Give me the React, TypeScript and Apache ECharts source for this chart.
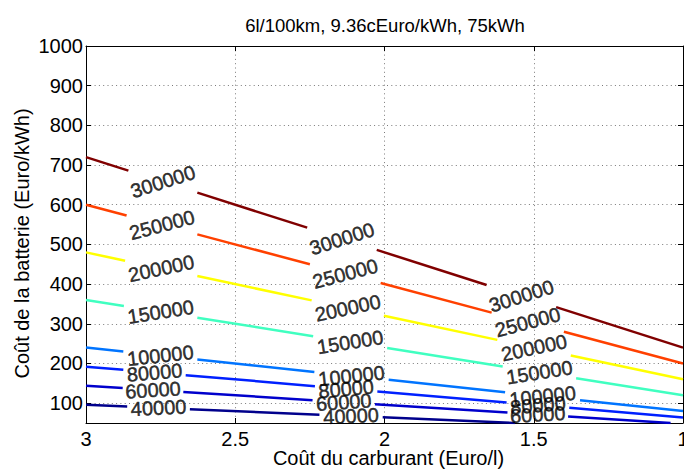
import React, { useEffect, useRef } from 'react';
import * as echarts from 'echarts';

const titleText = '6l/100km, 9.36cEuro/kWh, 75kWh';
const xName = 'Coût du carburant (Euro/l)';
const yName = 'Coût de la batterie (Euro/kWh)';
const yTicks = [100, 200, 300, 400, 500, 600, 700, 800, 900, 1000];

const levels = [40000, 60000, 80000, 100000, 150000, 200000, 250000, 300000];

// contour breakpoints (segment start/end pairs)
const x40k = [3, 2.862, 2.652, 2.218, 2.006, 1.5625];
const y40k = [96, 91.6, 84.9, 71.0, 64.2, 50];
const x60k = [3, 2.877, 2.674, 2.241, 2.032, 1.588, 1.385, 1.0417];
const y60k = [144, 138.1, 128.4, 107.6, 97.5, 76.2, 66.5, 50];
const x80k = [3, 2.875, 2.666, 2.233, 2.024, 1.591, 1.381, 1];
const y80k = [192, 184, 170.6, 142.9, 129.5, 101.8, 88.4, 64];
const x100k = [3, 2.875, 2.627, 2.235, 1.986, 1.596, 1.345, 1];
const y100k = [240, 230, 210.2, 178.8, 158.9, 127.7, 107.6, 80];
const x150k = [3, 2.873, 2.627, 2.239, 1.991, 1.604, 1.358, 1];
const y150k = [360, 344.8, 315.2, 268.7, 238.9, 192.5, 163.0, 120];
const x200k = [3, 2.869, 2.627, 2.244, 2.002, 1.622, 1.376, 1];
const y200k = [480, 459.0, 420.3, 359.0, 320.3, 259.5, 220.2, 160];
const x250k = [3, 2.864, 2.627, 2.25, 2.013, 1.641, 1.399, 1];
const y250k = [600, 572.8, 525.4, 450, 402.6, 328.2, 279.8, 200];
const x300k = [3, 2.858, 2.627, 2.259, 2.026, 1.658, 1.425, 1];
const y300k = [720, 685.9, 630.5, 542.2, 486.2, 397.9, 342.0, 240];

const contourX = [x40k, x60k, x80k, x100k, x150k, x200k, x250k, x300k];
const contourY = [y40k, y60k, y80k, y100k, y150k, y200k, y250k, y300k];

const levelColors = ['#00008c', '#0000cc', '#0020ff', '#0074ff', '#40ffc0', '#ffff00', '#ff4000', '#800000'];

const FONT = '"Liberation Sans", Arial, Helvetica, sans-serif';

export default function App() {
  const ref = useRef<HTMLDivElement>(null);
  useEffect(() => {
    const chart = echarts.init(ref.current!, null, { renderer: 'svg' });
    const gridLine = { show: true, lineStyle: { color: '#7a7a7a', type: [1, 3.3], width: 1 } };
    const axisLineStyle = { show: true, lineStyle: { color: '#000', width: 1 } };
    const lineSeries = levels.map((lv, i) => {
      const xs = contourX[i];
      const ys = contourY[i];
      const segs: any[] = [];
      for (let j = 0; j + 1 < xs.length; j += 2) {
        segs.push({ coords: [[xs[j], ys[j]], [xs[j + 1], ys[j + 1]]] });
      }
      return {
        type: 'lines',
        name: String(lv),
        coordinateSystem: 'cartesian2d',
        xAxisIndex: 0,
        yAxisIndex: 0,
        silent: true,
        polyline: false,
        lineStyle: { color: levelColors[i], width: 2.5, opacity: 1, curveness: 0 },
        data: segs,
        z: 3,
      };
    });
    const base: any = {
      animation: false,
      title: {
        text: titleText,
        left: 385,
        top: 16,
        padding: 0,
        textAlign: 'center',
        textStyle: { fontSize: 18.5, fontWeight: 'normal', color: '#000', fontFamily: FONT },
      },
      grid: { left: 86, right: 1, top: 46, bottom: 47, containLabel: false, outerBoundsMode: 'none' },
      xAxis: [
        {
          type: 'value', inverse: true, min: 1, max: 3, interval: 0.5,
          name: xName, nameLocation: 'middle', nameGap: 25, nameMoveOverlap: false,
          nameTextStyle: { fontSize: 20, color: '#000', fontFamily: FONT, padding: [0, 0, 0, 8] },
          axisLine: axisLineStyle,
          axisTick: { show: true, inside: true, length: 5, lineStyle: { color: '#000' } },
          axisLabel: { fontSize: 20, lineHeight: 16, color: '#000', fontFamily: FONT, margin: 8, formatter: (v: number) => String(v) },
          splitLine: gridLine,
        },
        {
          type: 'value', inverse: true, min: 1, max: 3, interval: 0.5, position: 'top',
          axisLine: axisLineStyle,
          axisTick: { show: true, inside: true, length: 5, lineStyle: { color: '#000' } },
          axisLabel: { show: false },
          splitLine: { show: false },
        },
      ],
      yAxis: [
        {
          type: 'value', min: 50, max: 1000,
          name: yName, nameLocation: 'middle', nameGap: 54, nameMoveOverlap: false,
          nameTextStyle: { fontSize: 20, color: '#000', fontFamily: FONT, padding: [0, 18, 0, 0] },
          axisLine: axisLineStyle,
          axisTick: { show: true, inside: true, length: 5, customValues: yTicks, lineStyle: { color: '#000' } },
          axisLabel: { fontSize: 20, color: '#000', fontFamily: FONT, margin: 3, customValues: yTicks, formatter: (v: number) => String(v) },
          splitLine: gridLine,
        },
        {
          type: 'value', min: 50, max: 1000, position: 'right',
          axisLine: axisLineStyle,
          axisTick: { show: true, inside: true, length: 5, customValues: yTicks, lineStyle: { color: '#000' } },
          axisLabel: { show: false, customValues: yTicks },
          splitLine: { show: false },
        },
      ],
      series: lineSeries,
    };
    chart.setOption(base);

    const labelData: any[] = [];
    levels.forEach((lv, i) => {
      const xs = contourX[i];
      const ys = contourY[i];
      for (let j = 1; j + 1 < xs.length; j += 2) {
        const p1 = chart.convertToPixel({ xAxisIndex: 0, yAxisIndex: 0 }, [xs[j], ys[j]]) as number[];
        const p2 = chart.convertToPixel({ xAxisIndex: 0, yAxisIndex: 0 }, [xs[j + 1], ys[j + 1]]) as number[];
        const ang = (Math.atan2(p2[1] - p1[1], p2[0] - p1[0]) * 180) / Math.PI;
        labelData.push({
          name: String(lv),
          value: [(xs[j] + xs[j + 1]) / 2, (ys[j] + ys[j + 1]) / 2],
          label: { rotate: ang },
        });
      }
    });
    chart.setOption({
      series: [
        ...lineSeries,
        {
          type: 'scatter',
          xAxisIndex: 0,
          yAxisIndex: 0,
          silent: true,
          symbolSize: 1,
          itemStyle: { color: 'rgba(0,0,0,0)' },
          z: 4,
          label: {
            show: true,
            position: 'inside',
            formatter: (p: any) => p.name,
            fontSize: 20,
            color: '#000',
            textBorderColor: '#000',
            textBorderWidth: 0.5,
            fontFamily: FONT,
          },
          data: labelData,
        },
      ],
    });
    return () => chart.dispose();
  }, []);
  return <div ref={ref} style={{ position: 'absolute', left: 0, top: 0, width: 684, height: 470 }} />;
}
